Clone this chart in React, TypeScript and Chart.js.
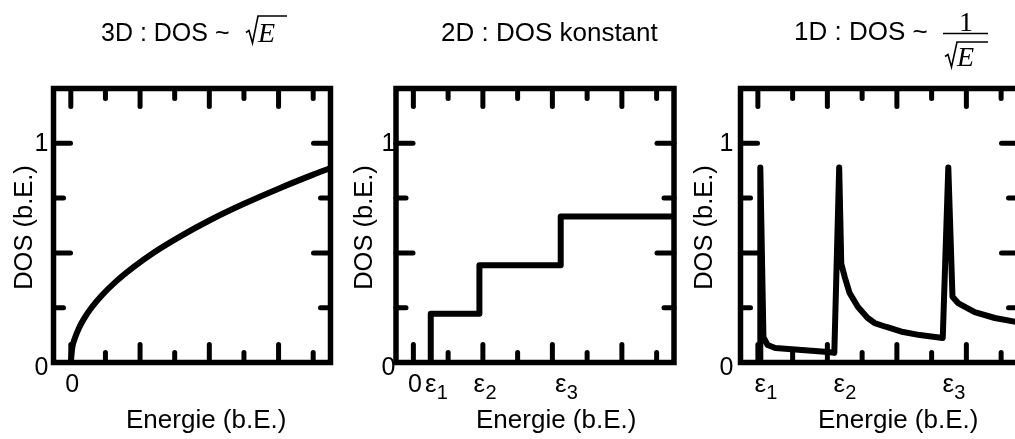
import React, { useEffect, useRef } from "react";
import { Chart, registerables } from "chart.js";

Chart.register(...registerables);

// ---- data ----
// 3D: DOS grows like the square root of the energy
const energy3D = [0, 0.02, 0.06, 0.12, 0.2, 0.3, 0.45, 0.65, 0.9, 1.2, 1.6, 2.0, 2.5, 3.0, 3.5, 3.75];
const dos3D = [0, 0.065, 0.112, 0.159, 0.205, 0.251, 0.307, 0.369, 0.434, 0.502, 0.579, 0.648, 0.724, 0.793, 0.857, 0.887];

// 2D: constant DOS per subband, a staircase starting at each level
const eps2D = [0.25, 0.95, 2.12];
const levels2D = [0.222, 0.444, 0.666];

// 1D: 1/sqrt(E) singularities at each subband edge
const eps1D = [0.035, 1.17, 2.74];
const energy1D = [
  0.035, 0.035, 0.08, 0.14, 0.25, 0.63, 1.01, 1.1,
  1.17, 1.2, 1.25, 1.32, 1.44, 1.58, 1.68, 1.85, 2.09, 2.33, 2.66,
  2.74, 2.8, 2.88, 3.12, 3.41, 3.75,
];
const dos1D = [
  0, 0.89, 0.115, 0.08, 0.066, 0.057, 0.048, 0.044,
  0.89, 0.45, 0.39, 0.317, 0.253, 0.203, 0.18, 0.162, 0.139, 0.125, 0.112,
  0.89, 0.3, 0.271, 0.23, 0.203, 0.183,
];

// axis ranges and tick marks
const X_MIN = -0.25;
const X_MAX = 3.75;
const Y_MIN = 0;
const Y_MAX = 1.25;
const xTickValues = [0, 0.5, 1, 1.5, 2, 2.5, 3, 3.5];
const yTickValues = [0.25, 0.5, 0.75, 1];
const epsNames = ["1", "2", "3"];

const X_TITLE = "Energie (b.E.)";
const Y_TITLE = "DOS (b.E.)";

// ---- layout ----
const CANVAS_W = 1030;
const CANVAS_H = 439;
const PLOT_TOP = 88.5;
const PLOT_BOTTOM = 362.5;
const SANS = "'Liberation Sans', Arial, Helvetica, sans-serif";
const SERIF = "'Liberation Serif', 'Times New Roman', serif";

type PanelLayout = {
  left: number;
  right: number;
  yTitleX: number;
  yTickRight: number;
  xTitleX: number;
};

const layouts: PanelLayout[] = [
  { left: 53.5, right: 330.5, yTitleX: 32, yTickRight: 48.5, xTitleX: 126 },
  { left: 396, right: 674, yTitleX: 372, yTickRight: 395.5, xTitleX: 476 },
  { left: 740.5, right: 1018.5, yTitleX: 712, yTickRight: 733.5, xTitleX: 818 },
];

function line(ctx: CanvasRenderingContext2D, x1: number, y1: number, x2: number, y2: number) {
  ctx.beginPath();
  ctx.moveTo(x1, y1);
  ctx.lineTo(x2, y2);
  ctx.stroke();
}

// radical sign with an italic E underneath
function drawSqrtE(ctx: CanvasRenderingContext2D, x0: number, baseline: number, barY: number, barEnd: number, size: number) {
  ctx.save();
  ctx.lineWidth = 1.6;
  ctx.lineJoin = "miter";
  ctx.lineCap = "butt";
  ctx.beginPath();
  ctx.moveTo(x0, baseline - 9);
  ctx.lineTo(x0 + 3, baseline - 11);
  ctx.lineTo(x0 + 6.5, baseline + 1.5);
  ctx.lineTo(x0 + 12, barY);
  ctx.lineTo(barEnd, barY);
  ctx.stroke();
  ctx.font = `italic ${size}px ${SERIF}`;
  ctx.textAlign = "left";
  ctx.textBaseline = "alphabetic";
  ctx.fillText("E", x0 + 12, baseline);
  ctx.restore();
}

type PanelOpts = {
  layout: PanelLayout;
  title: (ctx: CanvasRenderingContext2D) => void;
  showZero: boolean;
  eps: number[];
};

const dosFramePlugin = {
  id: "dosFrame",
  afterDatasetsDraw(chart: any, _args: any, opts: PanelOpts) {
    const { ctx, chartArea: a } = chart;
    const x = chart.scales.x;
    const y = chart.scales.y;
    const L = opts.layout;
    ctx.save();
    ctx.strokeStyle = "#000";
    ctx.fillStyle = "#000";

    // inward tick marks on all four sides
    ctx.lineWidth = 5;
    ctx.lineCap = "round";
    for (const v of xTickValues) {
      const px = x.getPixelForValue(v);
      const len = Number.isInteger(v) ? 18 : 10;
      line(ctx, px, a.bottom, px, a.bottom - len);
      line(ctx, px, a.top, px, a.top + len);
    }
    for (const v of yTickValues) {
      const py = y.getPixelForValue(v);
      const len = Math.abs(v * 2 - Math.round(v * 2)) < 1e-9 ? 17 : 10;
      line(ctx, a.left, py, a.left + len, py);
      line(ctx, a.right, py, a.right - len, py);
    }

    // frame
    ctx.lineWidth = 5.5;
    ctx.lineCap = "butt";
    ctx.lineJoin = "miter";
    ctx.strokeRect(a.left, a.top, a.right - a.left, a.bottom - a.top);

    // y tick labels
    ctx.font = `25px ${SANS}`;
    ctx.textAlign = "right";
    ctx.textBaseline = "alphabetic";
    ctx.fillText("1", L.yTickRight, y.getPixelForValue(1) + 8);
    ctx.fillText("0", L.yTickRight, y.getPixelForValue(0) + 12.5);

    // x tick labels
    const base = 391.5;
    if (opts.showZero) {
      ctx.textAlign = "center";
      ctx.fillText("0", x.getPixelForValue(0) + 1.5, base);
    }
    opts.eps.forEach((e, i) => {
      const px = x.getPixelForValue(e);
      ctx.font = `26px ${SANS}`;
      ctx.textAlign = "center";
      ctx.fillText("\u03b5", px, base);
      ctx.font = `20px ${SANS}`;
      ctx.textAlign = "left";
      ctx.fillText(epsNames[i], px + 6, base + 7.5);
    });

    // axis titles
    ctx.font = `26px ${SANS}`;
    ctx.textAlign = "left";
    ctx.fillText(X_TITLE, L.xTitleX, 428);
    ctx.save();
    ctx.translate(L.yTitleX, (a.top + a.bottom) / 2 + 2);
    ctx.rotate(-Math.PI / 2);
    ctx.textAlign = "center";
    ctx.font = `25.5px ${SANS}`;
    ctx.fillText(Y_TITLE, 0, 0);
    ctx.restore();

    // panel title
    opts.title(ctx);
    ctx.restore();
  },
};

function title3D(ctx: CanvasRenderingContext2D) {
  ctx.font = `25px ${SANS}`;
  ctx.textAlign = "left";
  ctx.textBaseline = "alphabetic";
  ctx.fillText("3D : DOS ~", 101, 41);
  drawSqrtE(ctx, 246, 41.5, 16, 287, 28);
}

function title2D(ctx: CanvasRenderingContext2D) {
  ctx.font = `26px ${SANS}`;
  ctx.textAlign = "left";
  ctx.textBaseline = "alphabetic";
  ctx.fillText("2D : DOS konstant", 441, 41);
}

function title1D(ctx: CanvasRenderingContext2D) {
  ctx.font = `26px ${SANS}`;
  ctx.textAlign = "left";
  ctx.textBaseline = "alphabetic";
  ctx.fillText("1D : DOS ~", 794, 40);
  // fraction 1 / sqrt(E)
  ctx.font = `28px ${SERIF}`;
  ctx.textAlign = "center";
  ctx.fillText("1", 966, 31);
  ctx.save();
  ctx.lineWidth = 1.6;
  line(ctx, 943, 33.5, 988, 33.5);
  ctx.restore();
  drawSqrtE(ctx, 945, 65.5, 42, 988, 28);
}

function buildChart(canvas: HTMLCanvasElement, panel: number) {
  const L = layouts[panel];
  let data: { x: number; y: number }[] = [];
  let extra: any = {};
  let eps: number[] = [];
  let title = title3D;
  if (panel === 0) {
    data = energy3D.map((e, i) => ({ x: e, y: dos3D[i] }));
    extra = { cubicInterpolationMode: "monotone" };
  } else if (panel === 1) {
    data = [{ x: eps2D[0], y: 0 }, ...eps2D.map((e, i) => ({ x: e, y: levels2D[i] })), { x: X_MAX, y: levels2D[levels2D.length - 1] }];
    extra = { stepped: "before" };
    eps = eps2D;
    title = title2D;
  } else {
    data = energy1D.map((e, i) => ({ x: e, y: dos1D[i] }));
    eps = eps1D;
    title = title1D;
  }

  return new Chart(canvas, {
    type: "line",
    data: {
      datasets: [
        {
          data,
          borderColor: "#000",
          borderWidth: 6,
          borderJoinStyle: "round",
          borderCapStyle: "round",
          pointRadius: 0,
          fill: false,
          tension: 0,
          ...extra,
        } as any,
      ],
    },
    options: {
      responsive: false,
      animation: false,
      devicePixelRatio: 1,
      events: [],
      layout: {
        padding: {
          left: L.left,
          right: CANVAS_W - L.right,
          top: PLOT_TOP,
          bottom: CANVAS_H - PLOT_BOTTOM,
        },
      },
      plugins: {
        legend: { display: false },
        tooltip: { enabled: false },
        dosFrame: { layout: L, title, showZero: panel !== 2, eps },
      } as any,
      scales: {
        x: { type: "linear", min: X_MIN, max: X_MAX, display: false },
        y: { type: "linear", min: Y_MIN, max: Y_MAX, display: false },
      },
    },
    plugins: [dosFramePlugin as any],
  });
}

function Panel({ index }: { index: number }) {
  const ref = useRef<HTMLCanvasElement | null>(null);
  useEffect(() => {
    if (!ref.current) return;
    const chart = buildChart(ref.current, index);
    return () => chart.destroy();
  }, [index]);
  return (
    <canvas
      ref={ref}
      width={CANVAS_W}
      height={CANVAS_H}
      style={{ position: "absolute", left: 0, top: 0, width: CANVAS_W, height: CANVAS_H }}
    />
  );
}

export default function App() {
  return (
    <div
      style={{
        position: "absolute",
        left: 0,
        top: 0,
        width: 1015,
        height: 439,
        overflow: "hidden",
        background: "#fff",
      }}
    >
      <Panel index={0} />
      <Panel index={1} />
      <Panel index={2} />
    </div>
  );
}
